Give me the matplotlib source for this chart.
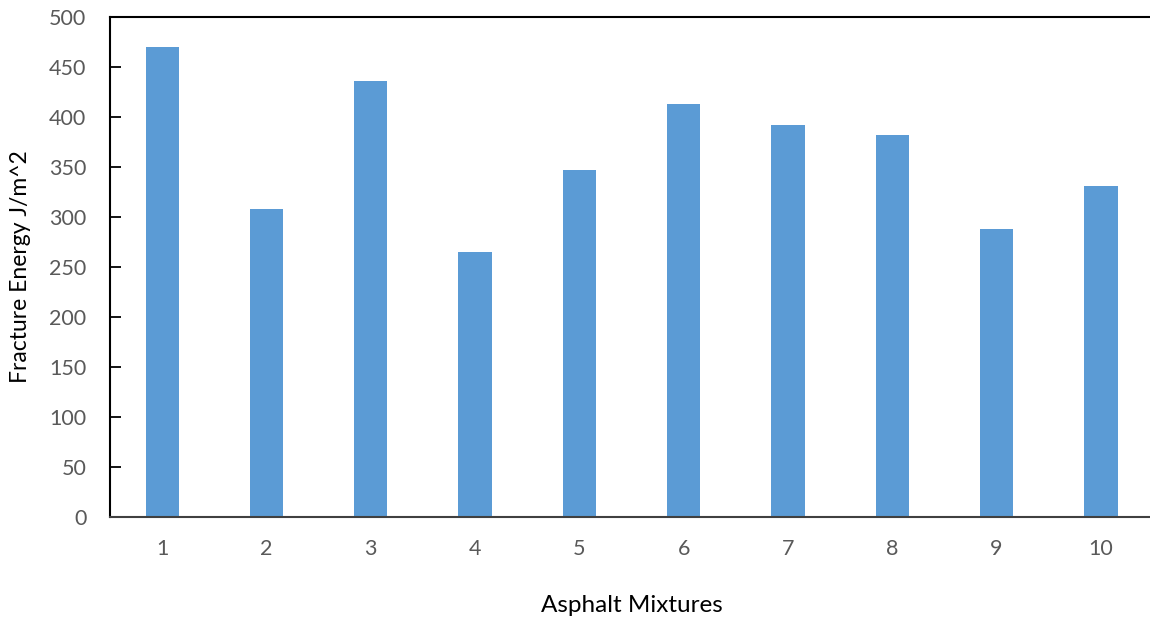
import matplotlib.pyplot as plt
import numpy as np

mixtures = ['1', '2', '3', '4', '5', '6', '7', '8', '9', '10']
fracture_energy = [470, 308, 436, 265, 347, 413, 392, 382, 288, 331]

plt.rcParams['font.family'] = ['Lato', 'DejaVu Sans']

fig = plt.figure(figsize=(11.5, 6.19), dpi=100)
ax = fig.add_axes([0.0957, 0.1648, 0.9069, 0.8077])

x = np.arange(len(mixtures))
ax.bar(x, fracture_energy, width=0.32, color='#5B9BD5')

ax.set_xlim(-0.5, len(mixtures) - 0.5)
ax.set_ylim(0, 500)
ax.set_yticks(np.arange(0, 501, 50))
ax.set_xticks(x)
ax.set_xticklabels(mixtures)

ax.tick_params(axis='y', direction='in', length=8, width=1.3, colors='black',
               labelcolor='#595959', labelsize=15.5, pad=17)
ax.tick_params(axis='x', length=0, labelcolor='#595959', labelsize=15.5, pad=16)

for side in ['top', 'left']:
    ax.spines[side].set_linewidth(1.5)
    ax.spines[side].set_color('black')
ax.spines['bottom'].set_linewidth(1.5)
ax.spines['bottom'].set_color('#404040')
ax.spines['right'].set_visible(False)

ax.set_xlabel('Asphalt Mixtures', fontsize=17.5, labelpad=26)
ax.set_ylabel('Fracture Energy J/m^2', fontsize=16.5, labelpad=13)

fig.savefig('out.png', dpi=100)
